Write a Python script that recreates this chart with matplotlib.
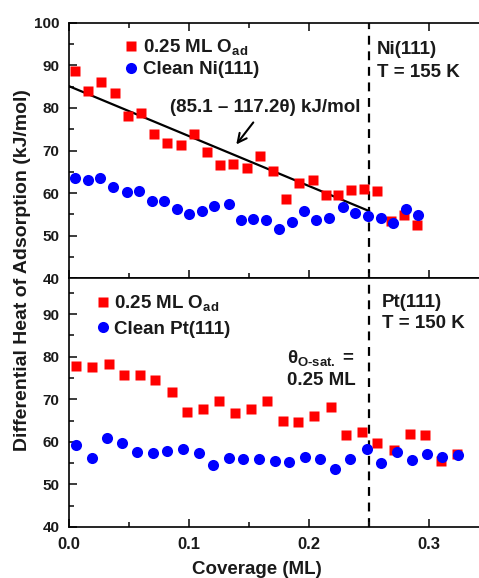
import matplotlib
matplotlib.use("Agg")
import matplotlib.pyplot as plt
from matplotlib.ticker import MultipleLocator

plt.rcParams['font.family'] = ['Liberation Sans', 'DejaVu Sans']
plt.rcParams['font.weight'] = 'bold'
plt.rcParams['mathtext.fontset'] = 'custom'
plt.rcParams['mathtext.rm'] = 'Liberation Sans:bold'
plt.rcParams['mathtext.bf'] = 'Liberation Sans:bold'
plt.rcParams['mathtext.it'] = 'Liberation Sans:bold'

# Ni(111), 0.25 ML O pre-covered
ni_o_cov = [0.005, 0.016, 0.027, 0.038, 0.049, 0.060, 0.071, 0.082, 0.093, 0.104,
            0.115, 0.126, 0.137, 0.148, 0.159, 0.170, 0.181, 0.192, 0.203, 0.214,
            0.224, 0.235, 0.246, 0.257, 0.268, 0.279, 0.290]
ni_o_heat = [88.6, 83.9, 86.1, 83.4, 78.1, 78.8, 73.9, 71.8, 71.3, 73.9,
             69.6, 66.5, 66.8, 66.0, 68.6, 65.3, 58.5, 62.3, 63.0, 59.5,
             59.6, 60.8, 61.0, 60.6, 53.4, 54.8, 52.6]

# clean Ni(111)
ni_cov = [0.005, 0.016, 0.026, 0.037, 0.048, 0.058, 0.069, 0.079, 0.090, 0.100,
          0.111, 0.121, 0.133, 0.143, 0.153, 0.164, 0.175, 0.186, 0.196, 0.206,
          0.217, 0.228, 0.238, 0.249, 0.260, 0.270, 0.281, 0.291]
ni_heat = [63.5, 63.0, 63.6, 61.4, 60.2, 60.6, 58.1, 58.1, 56.2, 55.0,
           55.8, 56.9, 57.4, 53.7, 54.0, 53.7, 51.5, 53.3, 55.9, 53.7,
           54.1, 56.7, 55.4, 54.6, 54.2, 53.0, 56.2, 54.8]

# Pt(111), 0.25 ML O pre-covered
pt_o_cov = [0.006, 0.019, 0.033, 0.046, 0.059, 0.072, 0.086, 0.098, 0.112, 0.125,
            0.138, 0.152, 0.165, 0.178, 0.191, 0.204, 0.218, 0.231, 0.244, 0.257,
            0.271, 0.284, 0.297, 0.310, 0.323]
pt_o_heat = [77.8, 77.6, 78.3, 75.8, 75.7, 74.5, 71.8, 67.1, 67.7, 69.6,
             66.8, 67.8, 69.7, 64.8, 64.6, 66.1, 68.2, 61.6, 62.4, 59.7,
             58.1, 61.8, 61.5, 55.5, 57.2]

# clean Pt(111)
pt_cov = [0.006, 0.019, 0.032, 0.044, 0.057, 0.070, 0.082, 0.095, 0.108, 0.120,
          0.133, 0.145, 0.158, 0.172, 0.183, 0.197, 0.209, 0.222, 0.234, 0.248,
          0.260, 0.273, 0.286, 0.298, 0.311, 0.324]
pt_heat = [59.3, 56.3, 60.9, 59.7, 57.5, 57.3, 57.9, 58.2, 57.4, 54.6,
           56.3, 55.9, 56.0, 55.4, 55.3, 56.5, 55.9, 53.7, 55.9, 58.3,
           55.1, 57.6, 55.8, 57.1, 56.4, 56.9]

# linear fit shown on the Ni(111) panel
fit_a = 85.1
fit_b = 117.2
fit_range = [0.0, 0.25]
theta_sat = 0.25

W, H = 479, 578
fig = plt.figure(figsize=(W / 100, H / 100), dpi=100)
left = 69 / W
ax_top = fig.add_axes([left, 1 - 278.3 / H, 1 - left, 255.6 / H])
ax_bot = fig.add_axes([left, 1 - 527 / H, 1 - left, 248.7 / H])

txt_col = '#1a1a1a'
fs = 13.5

for ax in (ax_top, ax_bot):
    ax.set_xlim(0, 0.3417)
    ax.xaxis.set_major_locator(MultipleLocator(0.1))
    ax.xaxis.set_minor_locator(MultipleLocator(0.05))
    ax.yaxis.set_major_locator(MultipleLocator(10))
    ax.yaxis.set_minor_locator(MultipleLocator(5))
    ax.spines['right'].set_visible(False)
    for s in ax.spines.values():
        s.set_linewidth(1.2)
    ax.tick_params(which='both', direction='in', width=1.2, colors=txt_col,
                   labelsize=11, pad=7)
    ax.tick_params(which='major', length=6)
    ax.tick_params(which='minor', length=3.5)
    ax.axvline(theta_sat, color='black', lw=1.6, ls=(0, (4, 3)), zorder=1)

ax_top.set_ylim(40, 100)
ax_bot.set_ylim(40, 98.4)
ax_top.tick_params(which='both', top=True, labelbottom=False)
ax_bot.set_xticks([0.0, 0.1, 0.2, 0.3])
ax_bot.set_xticklabels(['0.0', '0.1', '0.2', '0.3'])
ax_bot.tick_params(axis='x', labelsize=12)

# top panel: Ni(111)
ax_top.plot(ni_o_cov, ni_o_heat, 's', color='#ff0000', ms=7, mec='none',
            label='0.25 ML O$_{\\mathrm{ad}}$', zorder=3)
ax_top.plot(ni_cov, ni_heat, 'o', color='#0000ff', ms=8, mec='none',
            label='Clean Ni(111)', zorder=3)
fit_y = [fit_a - fit_b * c for c in fit_range]
ax_top.plot(fit_range, fit_y, color='black', lw=1.6, zorder=2)
ax_top.text(0.1637, 80.2, '(85.1 \u2013 117.2\u03b8) kJ/mol', ha='center',
            va='center', fontsize=fs, color=txt_col)
ax_top.annotate('', xy=(0.138, 70.9), xytext=(0.155, 77.1),
                arrowprops=dict(arrowstyle='->', color='black', lw=1.5,
                                mutation_scale=16))
ax_top.text(0.2567, 93.6, 'Ni(111)', ha='left', va='center', fontsize=fs,
            color=txt_col)
ax_top.text(0.2567, 88.4, 'T = 155 K', ha='left', va='center', fontsize=fs,
            color=txt_col)
ax_top.legend(loc='upper left', bbox_to_anchor=(0.133, 0.9425), frameon=False,
              borderpad=0, borderaxespad=0, handlelength=0.8, handletextpad=0.24,
              labelspacing=0.2, fontsize=fs, labelcolor=txt_col)

# bottom panel: Pt(111)
ax_bot.plot(pt_o_cov, pt_o_heat, 's', color='#ff0000', ms=7, mec='none',
            label='0.25 ML O$_{\\mathrm{ad}}$', zorder=3)
ax_bot.plot(pt_cov, pt_heat, 'o', color='#0000ff', ms=8, mec='none',
            label='Clean Pt(111)', zorder=3)
ax_bot.text(0.261, 92.8, 'Pt(111)', ha='left', va='center', fontsize=fs,
            color=txt_col)
ax_bot.text(0.261, 87.7, 'T = 150 K', ha='left', va='center', fontsize=fs,
            color=txt_col)
ax_bot.text(0.1817, 79.7, '\u03b8$_{\\mathrm{O\u2010sat.}}$ =', ha='left',
            va='center', fontsize=fs, color=txt_col)
ax_bot.text(0.1817, 74.5, '0.25 ML', ha='left', va='center', fontsize=fs,
            color=txt_col)
ax_bot.legend(loc='upper left', bbox_to_anchor=(0.0646, 0.939), frameon=False,
              borderpad=0, borderaxespad=0, handlelength=0.8, handletextpad=0.2,
              labelspacing=0.37, fontsize=fs, labelcolor=txt_col)

fig.text(23 / W, 1 - 270 / H, 'Differential Heat of Adsorption (kJ/mol)',
         rotation=90, ha='center', va='center', fontsize=14, color=txt_col)
fig.text(257 / W, 1 - 569 / H, 'Coverage (ML)', ha='center', va='center',
         fontsize=fs, color=txt_col)

fig.savefig('out.png', dpi=100)
